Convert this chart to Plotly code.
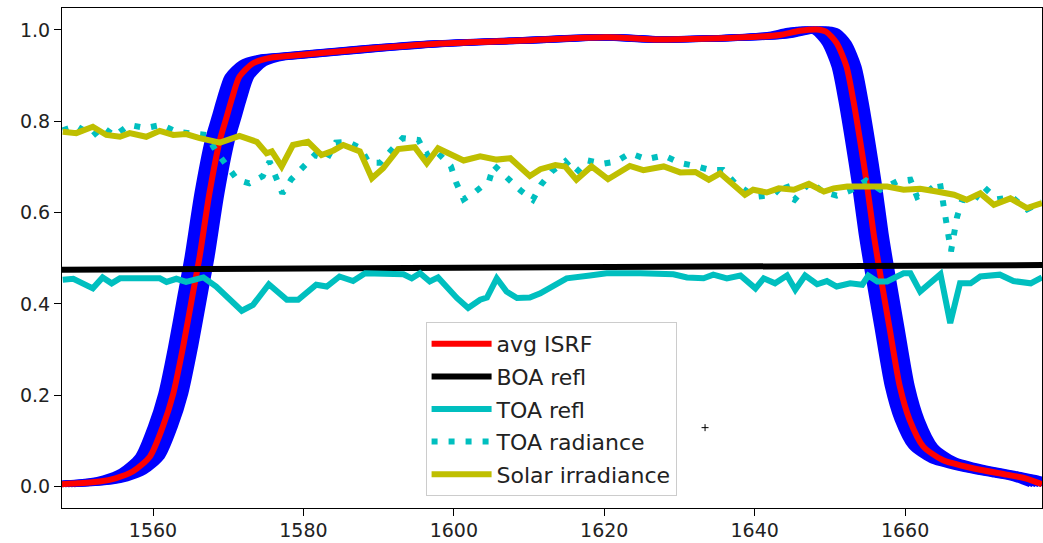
import plotly.graph_objects as go

# ---------------- data ----------------
isrf_x = [1547.9, 1550.0, 1552.9, 1555.0, 1557.3, 1559.6, 1561.3, 1562.7, 1564.0, 1565.3,
          1566.2, 1567.5, 1568.9, 1569.8, 1570.5, 1571.5, 1573.3, 1576.0, 1579.5, 1586.2,
          1598.1, 1609.2, 1620.3, 1627.0, 1631.4, 1640.3, 1643.3, 1646.0, 1648.2, 1649.5,
          1650.9, 1652.2, 1653.1, 1654.0, 1654.9, 1655.8, 1656.6, 1657.9, 1659.3, 1660.6,
          1662.4, 1665.0, 1669.0, 1673.5, 1676.0, 1678.2]
isrf_y = [0.005, 0.007, 0.011, 0.018, 0.033, 0.066, 0.131, 0.204, 0.306, 0.423,
          0.504, 0.642, 0.759, 0.810, 0.850, 0.898, 0.927, 0.940, 0.945, 0.955,
          0.970, 0.977, 0.984, 0.979, 0.980, 0.985, 0.989, 0.998, 1.001, 0.996,
          0.971, 0.920, 0.847, 0.759, 0.664, 0.555, 0.474, 0.350, 0.219, 0.146,
          0.088, 0.058, 0.040, 0.026, 0.018, 0.005]
# wavelength shifts of the individual (blue) ISRFs around the average
isrf_shifts = [-1.6, -1.2, -0.8, -0.4, 0.0, 0.4, 0.8, 1.2, 1.6]

boa_x = [1547.9, 1560, 1570, 1580, 1590, 1600, 1610, 1620, 1630, 1640, 1650, 1660, 1670, 1678.2]
boa_y = [0.475, 0.476, 0.477, 0.478, 0.479, 0.480, 0.481, 0.482, 0.482, 0.483, 0.483, 0.484, 0.484, 0.485]

toa_refl_x = [1548.0, 1549.4, 1552.0, 1553.3, 1554.5, 1555.6, 1558.7, 1560.9, 1561.8, 1563.1,
              1564.4, 1566.7, 1568.4, 1570.2, 1571.8, 1573.3, 1575.4, 1577.8, 1579.3, 1581.7,
              1583.1, 1584.8, 1586.6, 1588.2, 1591.0, 1593.3, 1594.4, 1595.5, 1596.8, 1597.9,
              1600.4, 1601.9, 1603.5, 1604.4, 1605.7, 1607.0, 1608.4, 1610.1, 1611.5, 1613.5,
              1615.0, 1618.1, 1620.3, 1624.8, 1629.2, 1631.0, 1633.2, 1634.5, 1636.3, 1638.1,
              1640.1, 1641.2, 1642.7, 1644.3, 1645.4, 1646.7, 1648.3, 1649.6, 1650.9, 1652.7,
              1654.3, 1655.1, 1656.3, 1657.6, 1659.8, 1660.7, 1662.0, 1664.7, 1666.0, 1667.3,
              1668.7, 1670.0, 1672.6, 1674.4, 1676.7, 1678.2]
toa_refl_y = [0.453, 0.455, 0.434, 0.458, 0.445, 0.456, 0.456, 0.456, 0.448, 0.455,
              0.448, 0.458, 0.438, 0.409, 0.385, 0.398, 0.443, 0.409, 0.409, 0.442,
              0.438, 0.460, 0.450, 0.467, 0.465, 0.465, 0.456, 0.467, 0.449, 0.458,
              0.413, 0.391, 0.409, 0.414, 0.456, 0.427, 0.413, 0.414, 0.423, 0.442,
              0.456, 0.462, 0.467, 0.467, 0.465, 0.458, 0.456, 0.464, 0.456, 0.462,
              0.434, 0.456, 0.445, 0.462, 0.431, 0.462, 0.443, 0.450, 0.438, 0.445,
              0.442, 0.462, 0.449, 0.449, 0.467, 0.467, 0.427, 0.465, 0.358, 0.445,
              0.445, 0.460, 0.464, 0.450, 0.445, 0.458]

toa_rad_x = [1548.0, 1549.8, 1552.0, 1553.3, 1554.9, 1556.8, 1559.0, 1561.1, 1563.1, 1565.1,
             1567.1, 1568.4, 1569.8, 1571.2, 1572.8, 1574.6, 1575.5, 1576.4, 1577.2, 1578.4,
             1580.0, 1581.5, 1583.1, 1584.3, 1585.9, 1587.6, 1588.7, 1590.2, 1591.7, 1593.2,
             1595.3, 1596.3, 1597.5, 1599.6, 1600.3, 1601.3, 1602.9, 1604.7, 1605.3, 1607.2,
             1608.9, 1610.5, 1611.6, 1613.0, 1614.8, 1616.2, 1617.8, 1619.8, 1621.6, 1623.4,
             1625.6, 1627.9, 1630.0, 1632.1, 1634.1, 1635.8, 1637.4, 1639.0, 1640.5, 1642.5,
             1644.1, 1644.8, 1645.3, 1647.4, 1649.0, 1650.9, 1652.7, 1654.8, 1656.7, 1658.9,
             1660.7, 1661.6, 1662.7, 1664.6, 1665.3, 1666.1, 1666.9, 1667.6, 1669.1, 1670.4,
             1672.2, 1674.2, 1676.2, 1678.2]
toa_rad_y = [0.780, 0.790, 0.768, 0.787, 0.768, 0.792, 0.785, 0.792, 0.777, 0.775,
             0.770, 0.734, 0.701, 0.672, 0.664, 0.680, 0.712, 0.675, 0.642, 0.673,
             0.701, 0.726, 0.717, 0.753, 0.755, 0.741, 0.709, 0.709, 0.737, 0.763,
             0.759, 0.726, 0.737, 0.702, 0.666, 0.629, 0.646, 0.670, 0.704, 0.672,
             0.648, 0.628, 0.661, 0.690, 0.712, 0.686, 0.714, 0.707, 0.712, 0.730,
             0.717, 0.725, 0.709, 0.702, 0.693, 0.693, 0.664, 0.646, 0.635, 0.639,
             0.666, 0.632, 0.628, 0.668, 0.646, 0.637, 0.648, 0.670, 0.650, 0.668,
             0.672, 0.634, 0.642, 0.668, 0.590, 0.515, 0.590, 0.628, 0.624, 0.657,
             0.629, 0.634, 0.607, 0.624]

solar_x = [1548.0, 1549.8, 1552.0, 1553.8, 1555.6, 1556.9, 1559.1, 1560.9, 1562.7, 1564.4,
           1566.2, 1568.9, 1571.5, 1573.8, 1575.1, 1575.8, 1577.1, 1578.6, 1580.6, 1582.4,
           1584.0, 1585.3, 1587.5, 1589.1, 1590.6, 1592.6, 1594.8, 1596.4, 1597.9, 1599.5,
           1601.3, 1603.5, 1605.7, 1607.5, 1610.1, 1611.5, 1613.5, 1614.8, 1616.3, 1618.3,
           1620.5, 1623.4, 1625.2, 1627.9, 1630.1, 1632.1, 1633.9, 1635.4, 1637.2, 1638.7,
           1639.8, 1641.6, 1643.2, 1645.2, 1647.2, 1649.2, 1650.5, 1652.3, 1655.4, 1657.6,
           1659.8, 1662.0, 1664.2, 1666.5, 1668.2, 1670.0, 1671.8, 1674.0, 1676.2, 1678.2]
solar_y = [0.777, 0.774, 0.788, 0.770, 0.766, 0.774, 0.766, 0.779, 0.770, 0.772,
           0.763, 0.753, 0.768, 0.755, 0.730, 0.734, 0.701, 0.748, 0.755, 0.726,
           0.736, 0.748, 0.734, 0.675, 0.697, 0.739, 0.743, 0.708, 0.741, 0.729,
           0.714, 0.723, 0.716, 0.719, 0.680, 0.695, 0.704, 0.701, 0.672, 0.701,
           0.673, 0.702, 0.693, 0.701, 0.688, 0.689, 0.672, 0.686, 0.661, 0.639,
           0.650, 0.644, 0.653, 0.650, 0.663, 0.646, 0.653, 0.657, 0.657, 0.657,
           0.650, 0.652, 0.646, 0.639, 0.628, 0.642, 0.617, 0.631, 0.610, 0.621]

stray_x = [1633.4]
stray_y = [0.129]

x_ticks = [1560, 1580, 1600, 1620, 1640, 1660]
y_ticks = [0.0, 0.2, 0.4, 0.6, 0.8, 1.0]

# ---------------- figure ----------------
fig = go.Figure()

for s in isrf_shifts:
    fig.add_trace(go.Scatter(x=[v + s for v in isrf_x], y=isrf_y, mode="lines",
                             line=dict(color="#0000ff", width=6, shape="spline", smoothing=0.7),
                             showlegend=False, hoverinfo="skip"))

fig.add_trace(go.Scatter(x=isrf_x, y=isrf_y, mode="lines", name="avg ISRF",
                         line=dict(color="#ff0000", width=6, shape="spline", smoothing=0.7),
                         legendgroup="a"))
fig.add_trace(go.Scatter(x=boa_x, y=boa_y, mode="lines", name="BOA refl",
                         line=dict(color="#000000", width=6), legendgroup="b"))
fig.add_trace(go.Scatter(x=toa_refl_x, y=toa_refl_y, mode="lines", name="TOA refl",
                         line=dict(color="#00bfbf", width=6), legendgroup="c"))
fig.add_trace(go.Scatter(x=toa_rad_x, y=toa_rad_y, mode="lines", name="TOA radiance",
                         line=dict(color="#00bfbf", width=6, dash="6px,11px"), legendgroup="d"))
fig.add_trace(go.Scatter(x=solar_x, y=solar_y, mode="lines", name="Solar irradiance",
                         line=dict(color="#bfbf00", width=6), legendgroup="e"))
fig.add_trace(go.Scatter(x=stray_x, y=stray_y, mode="markers", showlegend=False,
                         marker=dict(symbol="cross-thin", size=5, color="black",
                                     line=dict(color="black", width=1))))

axis_common = dict(showline=True, linecolor="black", linewidth=1, mirror=True,
                   ticks="outside", ticklen=7, tickwidth=1, tickcolor="black",
                   showgrid=False, zeroline=False, automargin=False,
                   tickfont=dict(family="DejaVu Sans", size=19, color="#222222"))

fig.update_layout(
    width=1043, height=543,
    margin=dict(l=62, r=1, t=8, b=35),
    paper_bgcolor="white", plot_bgcolor="white",
    xaxis=dict(range=[1547.9, 1678.2], tickvals=x_ticks, ticklabelstandoff=-2, **axis_common),
    yaxis=dict(range=[-0.047, 1.048], tickvals=y_ticks, tickformat=".1f", **axis_common),
    legend=dict(x=0.371, y=0.372, xanchor="left", yanchor="top",
                bgcolor="rgba(255,255,255,0.8)", bordercolor="#cccccc", borderwidth=1,
                font=dict(family="DejaVu Sans", size=22, color="#222222"),
                traceorder="grouped", tracegroupgap=1, itemwidth=60),
)

fig.write_html("out.html")
